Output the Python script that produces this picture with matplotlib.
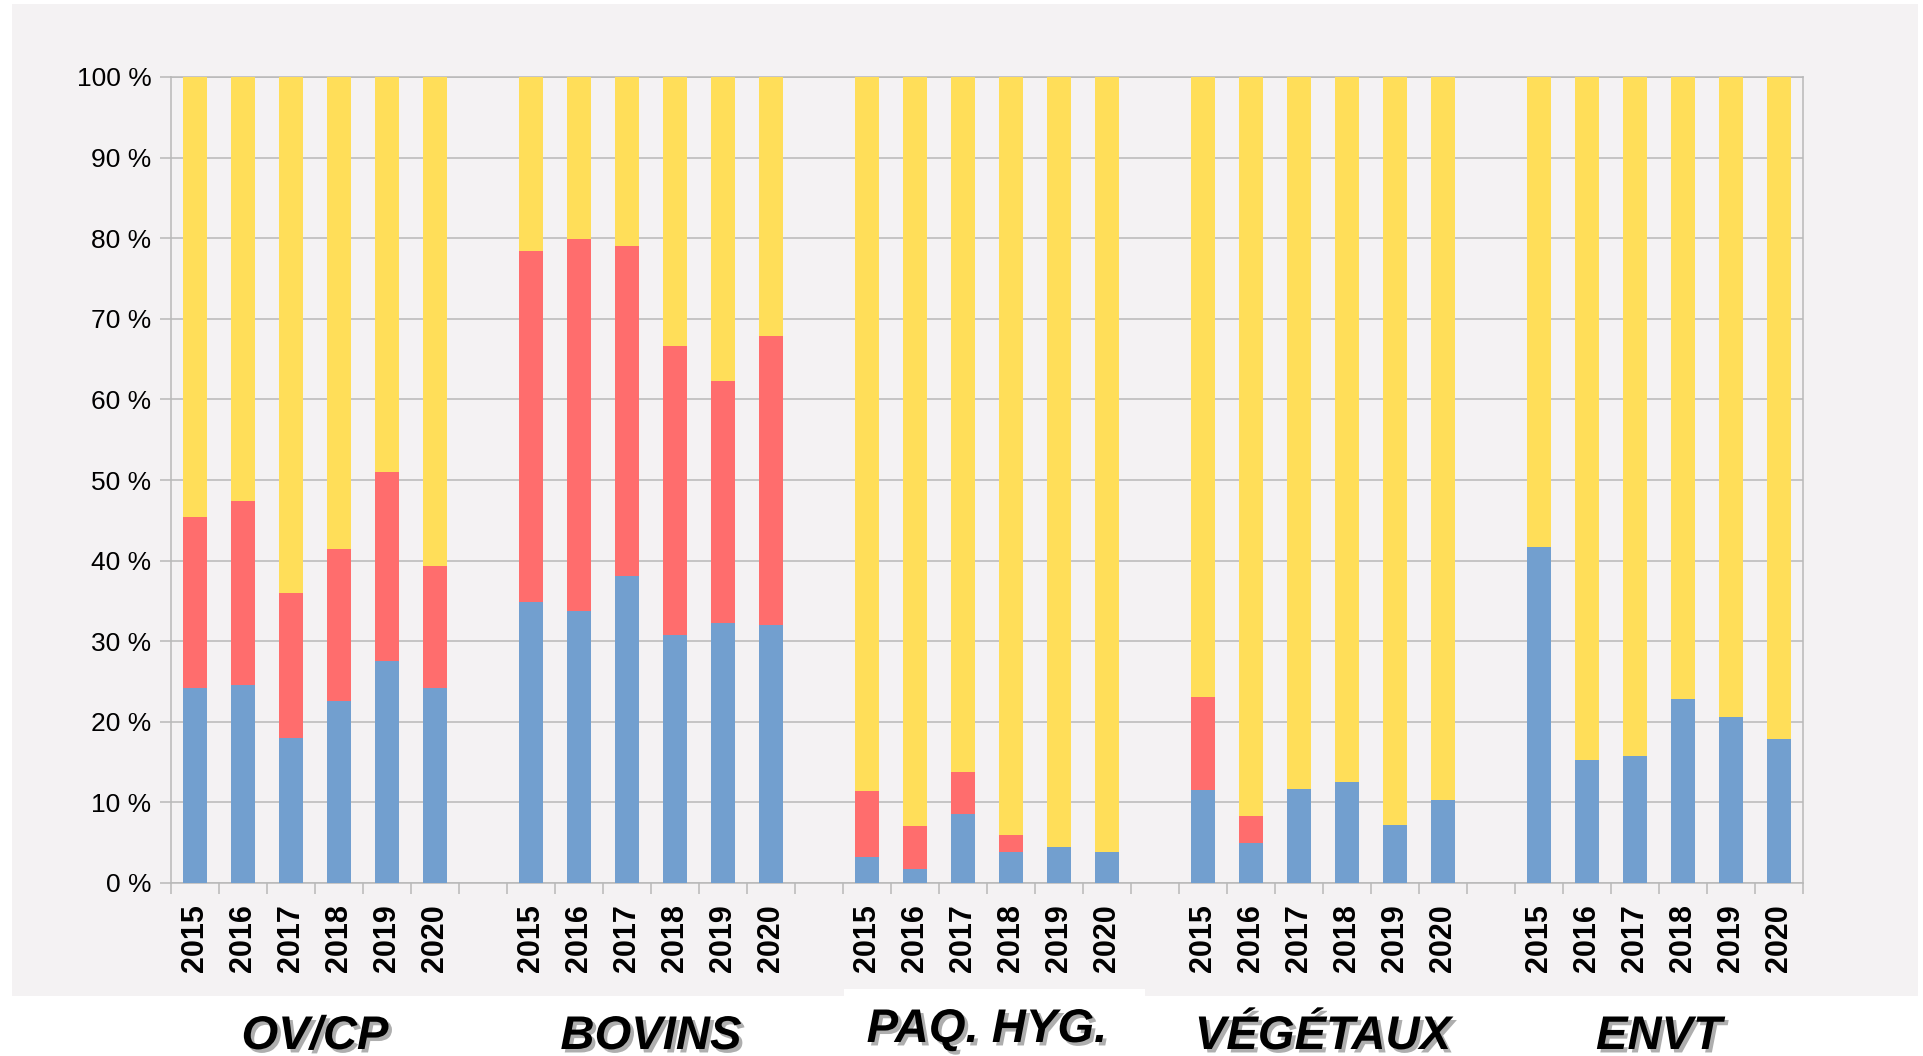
import matplotlib
matplotlib.use("Agg")
import matplotlib.pyplot as plt
import matplotlib.patheffects as pe
from matplotlib.patches import Rectangle
import numpy as np

plt.rcParams['font.family'] = ['Liberation Sans', 'DejaVu Sans']

groups = ["OV/CP", "BOVINS", "PAQ. HYG.", "VÉGÉTAUX", "ENVT"]
years = ["2015", "2016", "2017", "2018", "2019", "2020"]

# percentages: blue (bottom), red (middle); yellow fills up to 100 %
blue = {
    "OV/CP":     [24.2, 24.6, 18.0, 22.6, 27.5, 24.2],
    "BOVINS":    [34.9, 33.7, 38.1, 30.8, 32.3, 32.0],
    "PAQ. HYG.": [3.2, 1.7, 8.6, 3.9, 4.5, 3.8],
    "VÉGÉTAUX":  [11.6, 5.0, 11.7, 12.5, 7.2, 10.3],
    "ENVT":      [41.7, 15.3, 15.8, 22.8, 20.6, 17.9],
}
red = {
    "OV/CP":     [21.2, 22.8, 18.0, 18.8, 23.5, 15.1],
    "BOVINS":    [43.5, 46.2, 40.9, 35.8, 30.0, 35.9],
    "PAQ. HYG.": [8.2, 5.4, 5.2, 2.0, 0.0, 0.0],
    "VÉGÉTAUX":  [11.5, 3.3, 0.0, 0.0, 0.0, 0.0],
    "ENVT":      [0.0, 0.0, 0.0, 0.0, 0.0, 0.0],
}
yticks = [0, 10, 20, 30, 40, 50, 60, 70, 80, 90, 100]
ytick_labels = [f"{v} %" for v in yticks]

C_BLUE = "#729fcf"
C_RED = "#ff6d6d"
C_YEL = "#ffde59"
PANEL = "#f4f2f3"
GRID = "#b8b8b8"

W, H = 1924, 1056
fig = plt.figure(figsize=(W / 100, H / 100), dpi=100, facecolor="white")

# gray panel background
fig.patches.append(Rectangle((12 / W, (H - 996) / H), (1918 - 12) / W, (996 - 4) / H,
                             transform=fig.transFigure, facecolor=PANEL,
                             edgecolor="none", zorder=-10))
# white box behind PAQ. HYG.
fig.patches.append(Rectangle((844 / W, 0), (1145 - 844) / W, (H - 989) / H,
                             transform=fig.transFigure, facecolor="white",
                             edgecolor="none", zorder=-5))

ax = fig.add_axes([171 / W, (H - 883) / H, (1803 - 171) / W, (883 - 77) / H])
ax.set_facecolor(PANEL)

positions = []
labels = []
gap = 1
for gi, g in enumerate(groups):
    x0 = gi * (len(years) + gap)
    xs = np.arange(len(years)) + x0
    b = np.array(blue[g])
    r = np.array(red[g])
    yv = 100 - b - r
    ax.bar(xs, b, width=0.52, color=C_BLUE, zorder=3)
    ax.bar(xs, r, width=0.52, bottom=b, color=C_RED, zorder=3)
    ax.bar(xs, yv, width=0.52, bottom=b + r, color=C_YEL, zorder=3)
    positions.extend(xs)
    labels.extend(years)

nslots = len(groups) * len(years) + (len(groups) - 1) * gap
ax.set_xlim(-0.5, nslots - 0.5)
ax.set_ylim(0, 100)

ax.set_yticks(yticks)
ax.set_yticklabels(ytick_labels, fontsize=19)
ax.tick_params(axis="y", length=8, width=1.1, color=GRID, pad=6)
ax.yaxis.grid(True, color=GRID, linewidth=1.1, zorder=0)
ax.set_axisbelow(True)

ax.set_xticks(positions)
ax.set_xticklabels(labels, rotation=90, fontsize=22, fontweight="bold")
ax.tick_params(axis="x", which="major", length=0, pad=15)
ax.set_xticks(np.arange(-0.5, nslots, 1.0), minor=True)
ax.tick_params(axis="x", which="minor", length=8, width=1.1, color=GRID)

for s in ax.spines.values():
    s.set_color(GRID)
    s.set_linewidth(1.1)

shadow = [pe.SimplePatchShadow(offset=(2.5, -2.5), shadow_rgbFace="#8c8c8c", alpha=0.7),
          pe.Normal()]
tr = matplotlib.transforms.blended_transform_factory(ax.transData, fig.transFigure)
for gi, g in enumerate(groups):
    xc = gi * (len(years) + gap) + (len(years) - 1) / 2
    ybase = (H - 1042) / H if g == "PAQ. HYG." else (H - 1049) / H
    t = ax.text(xc, ybase, g, transform=tr, ha="center", va="baseline",
                fontsize=34, fontweight="bold", fontstyle="italic", zorder=5)
    t.set_path_effects(shadow)

fig.savefig("out.png", dpi=100, facecolor="white")
